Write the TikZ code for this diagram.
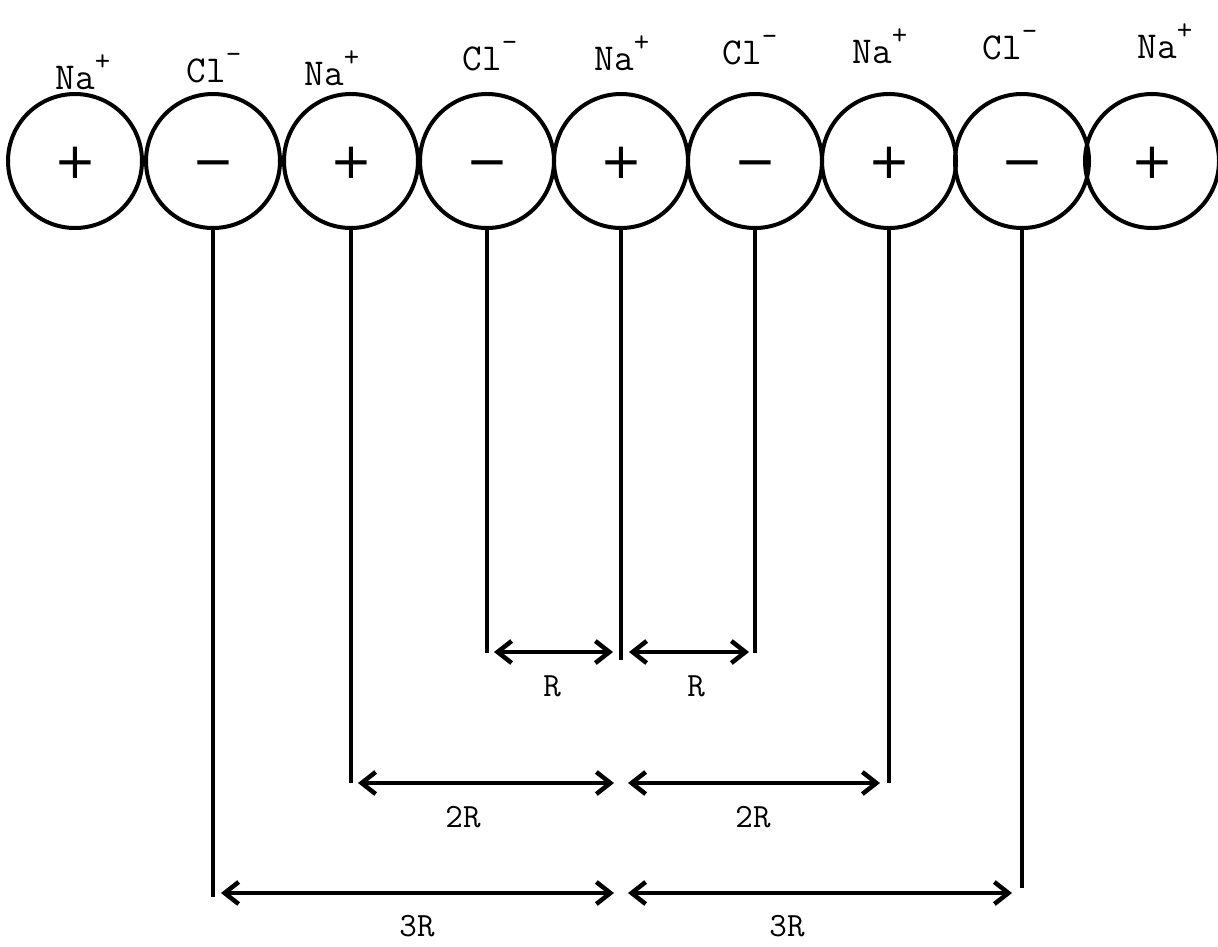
\documentclass[tikz,border=0pt]{standalone}
\usepackage{fontspec}
\newfontfamily\signfont{DejaVu Sans}
\usetikzlibrary{arrows.meta}
\newcommand{\upsign}[1]{\raisebox{0.5em}{\fontsize{30}{30}\selectfont #1}}
\begin{document}
\begin{tikzpicture}[x=1pt,y=-1pt,
  ion/.style={circle,draw,line width=4pt,minimum size=134pt,inner sep=0pt,text height=35pt,text depth=0pt,font=\signfont\fontsize{50}{50}\selectfont},
  lab/.style={font=\ttfamily\fontsize{38}{40}\selectfont,inner sep=0pt},
  dimlab/.style={font=\ttfamily\fontsize{34}{36}\selectfont,inner sep=0pt},
  vline/.style={line width=3.4pt},
  darr/.style={line width=3.4pt,{Straight Barb[length=14pt,width=22pt,line width=4.5pt]}-{Straight Barb[length=14pt,width=22pt,line width=4.5pt]}}]
\useasboundingbox (0,0) rectangle (1218,946);
% ions
\node[ion] (c1) at (75,161) {+};
\node[ion] (c2) at (213,161) {−};
\node[ion] (c3) at (351,161) {+};
\node[ion] (c4) at (487,161) {−};
\node[ion] (c5) at (621,161) {+};
\node[ion] (c6) at (755,161) {−};
\node[ion] (c7) at (889,161) {+};
\node[ion] (c8) at (1022,161) {−};
\node[ion] (c9) at (1152,161) {+};
% labels
\node[lab] (l1) at (83,72) {Na\upsign{+}};
\node[lab] (l2) at (214,68) {Cl\upsign{-}};
\node[lab] (l3) at (332,68) {Na\upsign{+}};
\node[lab] (l4) at (490,56) {Cl\upsign{-}};
\node[lab] (l5) at (622,53) {Na\upsign{+}};
\node[lab] (l6) at (750,50) {Cl\upsign{-}};
\node[lab] (l7) at (880,46) {Na\upsign{+}};
\node[lab] (l8) at (1010,45) {Cl\upsign{-}};
\node[lab] (l9) at (1165,41) {Na\upsign{+}};
% bottom ends of the vertical lines
\coordinate (b2) at (213,897);
\coordinate (b3) at (351,783);
\coordinate (b4) at (487,653);
\coordinate (b5) at (621,660);
\coordinate (b6) at (755,653);
\coordinate (b7) at (889,783);
\coordinate (b8) at (1022,888);
\foreach \i in {2,...,8} \draw[vline] (c\i.south) -- (b\i);
% arrow ends
\coordinate (r1a) at (494,652); \coordinate (r1b) at (613,652);
\coordinate (r2a) at (629,652); \coordinate (r2b) at (749,652);
\coordinate (s1a) at (358,783); \coordinate (s1b) at (614,783);
\coordinate (s2a) at (628,783); \coordinate (s2b) at (880,783);
\coordinate (t1a) at (221,893); \coordinate (t1b) at (614,893);
\coordinate (t2a) at (628,893); \coordinate (t2b) at (1012,893);
\draw[darr] (r1a) -- (r1b);
\draw[darr] (r2a) -- (r2b);
\draw[darr] (s1a) -- (s1b);
\draw[darr] (s2a) -- (s2b);
\draw[darr] (t1a) -- (t1b);
\draw[darr] (t2a) -- (t2b);
% dimension labels
\node[dimlab] (dR1) at (552,686) {R};
\node[dimlab] (dR2) at (696,686) {R};
\node[dimlab] (d2R1) at (463,817) {2R};
\node[dimlab] (d2R2) at (753,817) {2R};
\node[dimlab] (d3R1) at (417,926) {3R};
\node[dimlab] (d3R2) at (787,926) {3R};
\end{tikzpicture}
\end{document}
